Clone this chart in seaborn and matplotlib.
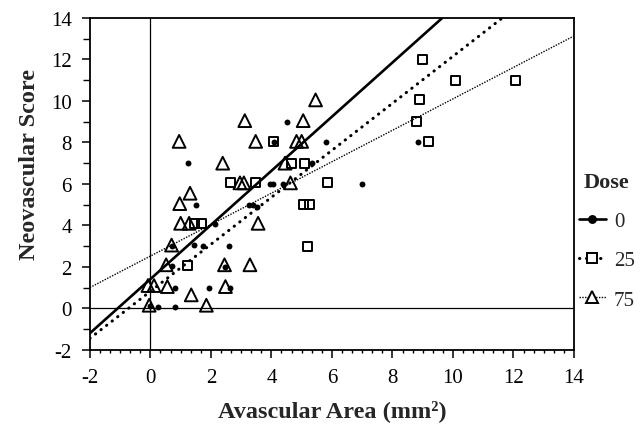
import matplotlib
matplotlib.use("Agg")
import matplotlib.pyplot as plt
import matplotlib.ticker as ticker
from matplotlib.lines import Line2D
import pandas as pd
import seaborn as sns

# points, one pair of arrays per dose group
dose0_x = [4.50, 4.10, 5.80, 8.85, 1.25, 5.35, 3.95, 4.06, 4.37, 7.00, 1.50, 3.27, 3.40, 3.52,
           2.15, 1.44, 1.75, 2.60, 0.70, 0.70, 2.45, 0.81, 1.94, 2.63, 0.00, 0.26, 0.81]
dose0_y = [9.0, 8.0, 8.0, 8.0, 7.0, 7.0, 6.0, 6.0, 6.0, 6.0, 5.0, 5.0, 5.0, 4.9,
           4.05, 3.05, 3.0, 3.0, 3.0, 2.05, 2.0, 1.0, 1.0, 1.0, 0.1, 0.05, 0.05]

dose25_x = [9.00, 10.07, 12.08, 8.89, 8.78, 4.06, 9.18, 4.67, 5.11, 2.64, 3.48, 5.84,
            5.05, 5.27, 1.47, 1.69, 5.20, 1.22]
dose25_y = [12.0, 11.0, 11.0, 10.05, 9.0, 8.05, 8.05, 7.0, 7.0, 6.05, 6.05, 6.05,
            5.0, 5.0, 4.1, 4.1, 3.0, 2.05]

dose75_x = [5.46, 3.12, 5.05, 0.95, 3.48, 4.83, 5.00, 2.39, 4.45, 2.96, 3.09, 4.63, 1.31, 0.97,
            1.00, 1.28, 3.56, 0.70, 0.52, 2.45, 3.29, -0.08, 0.12, 0.56, 2.48, 1.35, -0.04, 1.85]
dose75_y = [10.05, 9.05, 9.05, 8.05, 8.05, 8.05, 8.05, 7.0, 7.0, 6.05, 6.05, 6.05, 5.55, 5.05,
            4.1, 4.1, 4.1, 3.05, 2.1, 2.1, 2.1, 1.1, 1.1, 1.05, 1.05, 0.65, 0.15, 0.15]

doses = ["0", "25", "75"]
# trend lines as drawn in the figure (intercept, slope)
line_intercepts = [1.41, 0.82, 2.52]
line_slopes = [1.305, 1.133, 0.758]

sns.set_theme(style="ticks")
plt.rcParams["font.family"] = ["Liberation Serif", "DejaVu Serif"]
plt.rcParams["axes.unicode_minus"] = False
plt.rcParams["axes.edgecolor"] = "black"
plt.rcParams["xtick.color"] = "black"
plt.rcParams["ytick.color"] = "black"

df = pd.concat([
    pd.DataFrame({"x": dose0_x, "y": dose0_y, "dose": "0"}),
    pd.DataFrame({"x": dose25_x, "y": dose25_y, "dose": "25"}),
    pd.DataFrame({"x": dose75_x, "y": dose75_y, "dose": "75"}),
], ignore_index=True)

line_styles = {
    "0": dict(linestyle="-", linewidth=1.9),
    "25": dict(linestyle=(0, (0.1, 2.2)), linewidth=2.2, dash_capstyle="round"),
    "75": dict(linestyle=(0, (1, 1)), linewidth=1.0),
}
marker_styles = {
    "0": dict(marker="o", s=18, color="black", edgecolor="black", linewidth=0),
    "25": dict(marker="s", s=42, color="black", facecolors="none", edgecolor="black", linewidth=1.4),
    "75": dict(marker="^", s=85, color="black", facecolors="none", edgecolor="black", linewidth=1.4),
}

fig, ax = plt.subplots(figsize=(6.42, 4.31), dpi=100)
fig.subplots_adjust(left=0.140, right=0.894, top=0.956, bottom=0.186)
ax.set_xlim(-2, 14)
ax.set_ylim(-2, 14)

ax.axhline(0, color="black", linewidth=0.9, zorder=1)
ax.axvline(0, color="black", linewidth=0.9, zorder=1)

for dose, b0, b1 in zip(doses, line_intercepts, line_slopes):
    ax.axline((0, b0), slope=b1, color="black", zorder=2, **line_styles[dose])

for dose in doses:
    sns.scatterplot(data=df[df["dose"] == dose], x="x", y="y", ax=ax, legend=False,
                    zorder=3, **marker_styles[dose])

ax.xaxis.set_major_locator(ticker.MultipleLocator(2))
ax.xaxis.set_minor_locator(ticker.AutoMinorLocator(6))
ax.yaxis.set_major_locator(ticker.MultipleLocator(2))
ax.yaxis.set_minor_locator(ticker.MultipleLocator(1))
ax.tick_params(which="major", direction="out", length=6, width=1.1, labelsize=15, pad=7)
ax.tick_params(axis="x", which="minor", direction="out", length=2.5, width=1)
ax.tick_params(axis="y", which="minor", direction="out", length=5, width=1)
for spine in ax.spines.values():
    spine.set_linewidth(1.3)

ax.set_xlabel("Avascular Area (mm²)", fontsize=17.5, fontweight="bold", labelpad=9)
ax.set_ylabel("Neovascular Score", fontsize=17.5, fontweight="bold")
ax.yaxis.set_label_coords(-0.103, 0.56)

handles = []
for dose in doses:
    m = marker_styles[dose]
    handles.append(Line2D([0], [0], color="black", marker=m["marker"],
                          markersize={"0": 5, "25": 7, "75": 8.5}[dose],
                          markerfacecolor="black" if dose == "0" else "white",
                          markeredgecolor="black", markeredgewidth=1.4,
                          **line_styles[dose]))
leg = fig.legend(handles, doses, loc="upper left", bbox_to_anchor=(566 / 642, 1 - 160 / 431),
                 frameon=False, title="Dose", fontsize=15, handlelength=1.3,
                 labelspacing=0.95, handletextpad=0.4, borderaxespad=0.2)
leg.get_title().set_fontsize(16)
leg.get_title().set_fontweight("bold")

fig.savefig("out.png", dpi=100)
